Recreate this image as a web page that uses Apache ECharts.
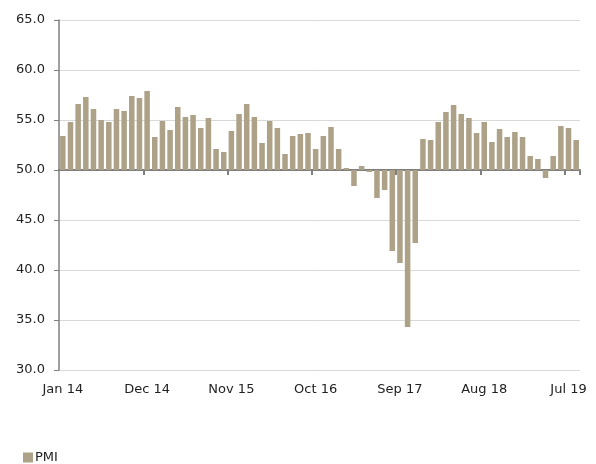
<!DOCTYPE html>
<html>
<head>
<meta charset="utf-8">
<script src="https://cdn.jsdelivr.net/npm/echarts@6/dist/echarts.min.js"></script>
<style>
  html, body { margin: 0; padding: 0; background: #fff; }
  #chart { width: 596px; height: 464px; }
</style>
</head>
<body>
<div id="chart"></div>
<script>
// monthly PMI, Jan 14 .. Aug 19
const monthNames = ['Jan', 'Feb', 'Mar', 'Apr', 'May', 'Jun', 'Jul', 'Aug', 'Sep', 'Oct', 'Nov', 'Dec']
const startYear = 14
const pmi = [
  53.4, 54.8, 56.6, 57.3, 56.1, 55.0, 54.8, 56.1, 55.9, 57.4, 57.2, 57.9,
  53.3, 54.9, 54.0, 56.3, 55.3, 55.5, 54.2, 55.2, 52.1, 51.8, 53.9, 55.6,
  56.6, 55.3, 52.7, 54.9, 54.2, 51.6, 53.4, 53.6, 53.7, 52.1, 53.4, 54.3,
  52.1, 50.2, 48.4, 50.4, 49.8, 47.2, 48.0, 41.9, 40.7, 34.3, 42.7, 53.1,
  53.0, 54.8, 55.8, 56.5, 55.6, 55.2, 53.7, 54.8, 52.8, 54.1, 53.3, 53.8,
  53.3, 51.4, 51.1, 49.2, 51.4, 54.4, 54.2, 53.0
]
const baseline = 50
const yTicks = [30, 35, 40, 45, 50, 55, 60, 65]
const labelEvery = 11

const categories = pmi.map((v, i) => monthNames[i % 12] + ' ' + (startYear + Math.floor(i / 12)))
const tickIdx = categories.map((c, i) => i).filter(i => i > 0 && i % labelEvery === 0)

const font = 'DejaVu Sans'
const barColor = '#ada288'
const axisColor = '#7f7f7f'

const chart = echarts.init(document.getElementById('chart'))

chart.setOption({
  animation: false,
  textStyle: { fontFamily: font },
  grid: { left: 59, right: 16, top: 20, bottom: 94 },
  legend: {
    left: 18,
    top: 446,
    itemWidth: 10,
    itemHeight: 10,
    itemGap: 4,
    icon: 'rect',
    textStyle: { fontSize: 13, color: '#222', fontFamily: font, padding: [0, 0, 0, -3] },
    data: ['PMI']
  },
  xAxis: [
    {
      // axis line through 50 with its ticks
      type: 'category',
      data: categories,
      boundaryGap: true,
      axisLine: { onZero: true, lineStyle: { color: axisColor, width: 2 } },
      axisTick: {
        show: true,
        customValues: tickIdx,
        length: 5,
        lineStyle: { color: axisColor, width: 2 }
      },
      axisLabel: { show: false }
    },
    {
      // labels along the bottom
      type: 'category',
      data: categories,
      position: 'bottom',
      boundaryGap: true,
      axisLine: { show: false, onZero: false },
      axisTick: { show: false },
      axisLabel: { interval: labelEvery - 1, margin: 13, fontSize: 13, color: '#222', fontFamily: font }
    }
  ],
  yAxis: {
    type: 'value',
    min: yTicks[0] - baseline,
    max: yTicks[yTicks.length - 1] - baseline,
    interval: 5,
    axisLine: { show: true, lineStyle: { color: axisColor, width: 1.5 } },
    axisTick: { show: true, length: 5, lineStyle: { color: axisColor } },
    axisLabel: {
      margin: 14,
      fontSize: 13,
      color: '#222',
      fontFamily: font,
      formatter: v => (v + baseline).toFixed(1)
    },
    splitLine: { show: true, lineStyle: { color: '#d9d9d9', width: 1 } }
  },
  series: [
    {
      name: 'PMI',
      type: 'bar',
      xAxisIndex: 0,
      barCategoryGap: '28%',
      itemStyle: { color: barColor },
      data: pmi.map(v => +(v - baseline).toFixed(1))
    }
  ]
})
</script>
</body>
</html>
